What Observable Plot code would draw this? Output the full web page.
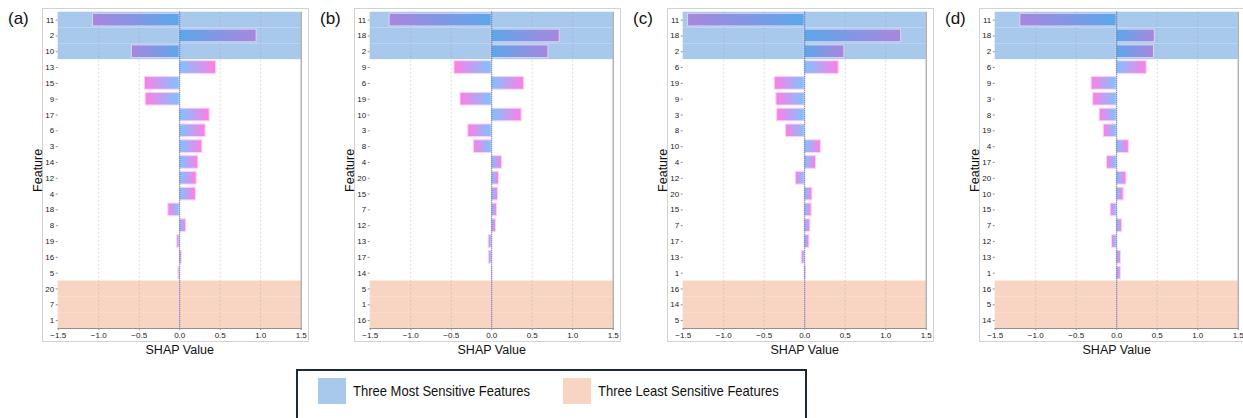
<!DOCTYPE html>
<html><head><meta charset="utf-8">
<script src="https://cdn.jsdelivr.net/npm/d3@7"></script>
<script src="https://cdn.jsdelivr.net/npm/@observablehq/plot@0.6"></script>
<style>
html,body{margin:0;padding:0;background:#fff;overflow:hidden;}
#root{position:relative;width:1243px;height:418px;font-family:"Liberation Sans",Arial,sans-serif;color:#111;}
.box{position:absolute;border:1px solid #d2d2d2;box-sizing:border-box;}
.plab{position:absolute;font-size:17px;line-height:20px;}
.plot{position:absolute;top:0;}
#legend{position:absolute;left:296px;top:369px;width:511px;height:62px;border:2px solid #1c2b3a;box-sizing:border-box;background:#fff;}
.sw{position:absolute;width:28px;height:26px;top:7px;}
.lt{position:absolute;top:7px;height:26px;line-height:26px;font-size:15px;white-space:nowrap;transform:scaleX(0.867);transform-origin:0 50%;}
</style>
</head><body>
<svg width="0" height="0" style="position:absolute">
  <defs>
    <linearGradient id="gTopPos" x1="0" x2="1" y1="0" y2="0"><stop offset="0" stop-color="#5ba8ea"/><stop offset="1" stop-color="#a986dd"/></linearGradient>
    <linearGradient id="gTopNeg" x1="0" x2="1" y1="0" y2="0"><stop offset="0" stop-color="#a986dd"/><stop offset="1" stop-color="#5ba8ea"/></linearGradient>
    <linearGradient id="gPos" x1="0" x2="1" y1="0" y2="0"><stop offset="0" stop-color="#7cc4ff"/><stop offset="1" stop-color="#ff7ee5"/></linearGradient>
    <linearGradient id="gNeg" x1="0" x2="1" y1="0" y2="0"><stop offset="0" stop-color="#ff7ee5"/><stop offset="1" stop-color="#7cc4ff"/></linearGradient>
  </defs>
</svg>
<div id="root"></div>
<script>
// ---------- data ----------
const panelLabels = ["(a)", "(b)", "(c)", "(d)"];
const featuresA = ["11","2","10","13","15","9","17","6","3","14","12","4","18","8","19","16","5","20","7","1"];
const shapA = [-1.07,0.95,-0.59,0.45,-0.43,-0.42,0.37,0.32,0.28,0.23,0.21,0.20,-0.14,0.08,-0.03,0.025,-0.015,0.005,0.003,0.01];
const featuresB = ["11","18","2","9","6","19","10","3","8","4","20","15","7","12","13","17","14","5","1","16"];
const shapB = [-1.26,0.84,0.70,-0.46,0.40,-0.385,0.37,-0.29,-0.22,0.127,0.09,0.078,0.066,0.053,-0.037,-0.033,0.008,0.002,0.001,0.001];
const featuresC = ["11","18","2","6","19","9","3","8","10","4","12","20","15","7","17","13","1","16","14","5"];
const shapC = [-1.44,1.19,0.49,0.42,-0.37,-0.35,-0.34,-0.23,0.20,0.14,-0.11,0.095,0.086,0.07,0.058,-0.037,0.016,0.004,0.001,0.001];
const featuresD = ["11","18","2","6","9","3","8","19","4","17","20","10","15","7","12","13","1","16","5","14"];
const shapD = [-1.19,0.47,0.46,0.37,-0.31,-0.29,-0.21,-0.16,0.15,-0.12,0.12,0.086,-0.074,0.066,-0.058,0.053,0.05,0.003,0.001,0.001];
const xDomain = [-1.5, 1.5];
const xTicks = [-1.5, -1, -0.5, 0, 0.5, 1, 1.5];
const gridTicks = [-1, -0.5, 0.5, 1];
const xLabel = "SHAP Value";
const yLabel = "Feature";
const legendLabels = ["Three Most Sensitive Features", "Three Least Sensitive Features"];

// ---------- layout / style ----------
const FONT = '"Liberation Sans",Arial,sans-serif';
const mostColor = "#a9c9ec";
const leastColor = "#f8d5c2";
const offsets = [0, 312, 625, 937];
const root = document.getElementById("root");

const panels = [
  {features: featuresA, values: shapA},
  {features: featuresB, values: shapB},
  {features: featuresC, values: shapC},
  {features: featuresD, values: shapD}
];

panels.forEach((p, k) => {
  const ox = offsets[k];
  const box = document.createElement("div");
  box.className = "box";
  Object.assign(box.style, {left: (ox + 42) + "px", top: "8px", width: "267px", height: "334px"});
  root.appendChild(box);

  const lab = document.createElement("div");
  lab.className = "plab";
  lab.textContent = panelLabels[k];
  Object.assign(lab.style, {left: (ox + 8) + "px", top: "9px"});
  root.appendChild(lab);

  const data = p.features.map((f, i) => ({feature: f, value: p.values[i], rank: i}));
  const n = data.length;
  const most = data.slice(0, 3);
  const least = data.slice(n - 3);
  const W = 280, H = 360, mt = 11.7, mb = 32, ml = 27.7, mr = 9.3;
  const step = (H - mt - mb) / n;
  const pad = -step * 0.1;
  const fillFor = d => d.rank < 3
    ? (d.value >= 0 ? "url(#gTopPos)" : "url(#gTopNeg)")
    : (d.value >= 0 ? "url(#gPos)" : "url(#gNeg)");

  const chart = Plot.plot({
    width: W, height: H,
    marginTop: mt, marginBottom: mb, marginLeft: ml, marginRight: mr,
    style: {fontFamily: FONT, fontSize: "8px", color: "#222", background: "transparent", overflow: "visible"},
    x: {domain: xDomain},
    y: {domain: p.features, paddingInner: 0.2, paddingOuter: 0.1, round: false},
    marks: [
      Plot.barX(most, {y: "feature", x1: () => xDomain[0], x2: () => xDomain[1], fill: mostColor, insetTop: pad, insetBottom: pad}),
      Plot.barX(least, {y: "feature", x1: () => xDomain[0], x2: () => xDomain[1], fill: leastColor, insetTop: pad, insetBottom: pad}),
      Plot.gridX(gridTicks, {stroke: "#9a9a9a", strokeOpacity: 0.35, strokeDasharray: "2,2"}),
      Plot.barX(data, {y: "feature", x: "value", fill: fillFor,
        stroke: d => d.rank < 3 ? "#d9d3f2" : "#fbd3f3", strokeWidth: 1}),
      Plot.ruleX([0], {stroke: "#35578f", strokeDasharray: "1,1", strokeWidth: 1}),
      Plot.frame({anchor: "bottom", stroke: "#8f8f8f"}),
      Plot.frame({anchor: "right", stroke: "#8f8f8f"}),
      Plot.axisX({ticks: xTicks, tickFormat: d3.format(".1f"), tickSize: 2, tickPadding: 2, label: null, stroke: "#8f8f8f", fill: "#222"}),
      Plot.axisY({tickSize: 2, tickPadding: 2, label: null, stroke: "#8f8f8f", fill: "#222"}),
      Plot.text([yLabel], {frameAnchor: "left", textAnchor: "middle", lineAnchor: "middle", rotate: -90, dx: -20, fontSize: 12.5, fill: "#111"}),
      Plot.text([xLabel], {frameAnchor: "bottom", textAnchor: "middle", lineAnchor: "middle", dy: 21, fontSize: 12.5, fill: "#111"})
    ]
  });
  chart.classList.add("plot");
  chart.style.left = (ox + 30) + "px";
  chart.style.position = "absolute";
  chart.style.top = "0px";
  root.appendChild(chart);
});

// ---------- legend ----------
const legend = document.createElement("div");
legend.id = "legend";
const legendColors = [mostColor, leastColor];
const swLeft = [20, 265];
const txtLeft = [55, 300];
legendLabels.forEach((t, i) => {
  const sw = document.createElement("div");
  sw.className = "sw";
  sw.style.left = swLeft[i] + "px";
  sw.style.background = legendColors[i];
  legend.appendChild(sw);
  const tx = document.createElement("div");
  tx.className = "lt";
  tx.style.left = txtLeft[i] + "px";
  tx.textContent = t;
  legend.appendChild(tx);
});
root.appendChild(legend);
</script>
</body></html>
